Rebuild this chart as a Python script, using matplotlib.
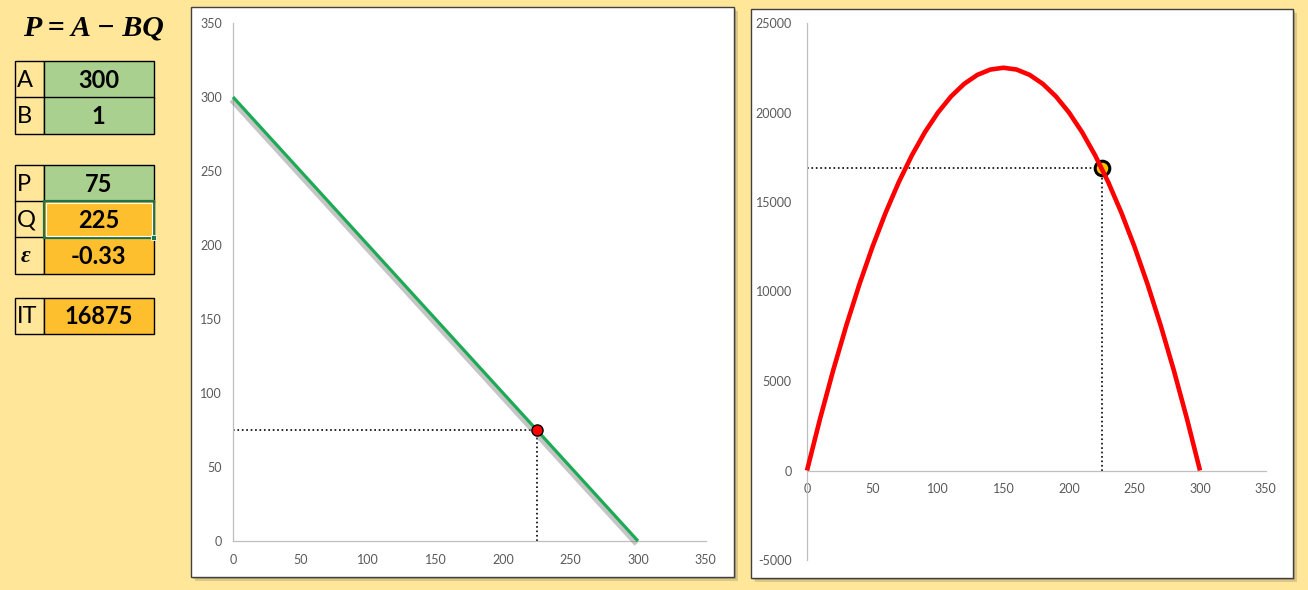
import matplotlib
matplotlib.use('Agg')
import matplotlib.pyplot as plt
from matplotlib.patches import Rectangle
import matplotlib.patheffects as pe

# ---------------- data ----------------
param_labels = ['A', 'B']
param_values = ['300', '1']
result_labels = ['P', 'Q', 'ε']
result_values = ['75', '225', '-0.33']
it_label = 'IT'
it_value = '16875'

demand_q = [0, 300]
demand_p = [300, 0]
point_q, point_p = 225, 75
point_it = 16875

rev_q = [0, 10, 20, 30, 40, 50, 60, 70, 80, 90, 100, 110, 120, 130, 140, 150,
         160, 170, 180, 190, 200, 210, 220, 230, 240, 250, 260, 270, 280, 290, 300]
rev_it = [0, 2900, 5600, 8100, 10400, 12500, 14400, 16100, 17600, 18900, 20000,
          20900, 21600, 22100, 22400, 22500, 22400, 22100, 21600, 20900, 20000,
          18900, 17600, 16100, 14400, 12500, 10400, 8100, 5600, 2900, 0]

x_ticks = [0, 50, 100, 150, 200, 250, 300, 350]
y_ticks_left = [0, 50, 100, 150, 200, 250, 300, 350]
y_ticks_right = [-5000, 0, 5000, 10000, 15000, 20000, 25000]

# ---------------- figure ----------------
W, H = 1308, 590
plt.rcParams['font.family'] = ['Lato', 'DejaVu Sans']
plt.rcParams['axes.unicode_minus'] = False
fig = plt.figure(figsize=(W / 100, H / 100), dpi=100)
fig.patch.set_facecolor('#FFE699')

GREEN = '#A9D08E'
ORANGE = '#FDBF2D'


def prect(x0, y0, x1, y1, **kw):
    r = Rectangle((x0 / W, 1 - y1 / H), (x1 - x0) / W, (y1 - y0) / H,
                  transform=fig.transFigure, **kw)
    fig.add_artist(r)
    return r


def ptext(x, y, s, **kw):
    return fig.text(x / W, 1 - y / H, s, **kw)


# chart frames with shadows
for (x0, y0, x1, y1) in [(191, 7, 734, 577), (751, 9, 1293, 578)]:
    prect(x0 + 4, y0 + 4, x1 + 4, y1 + 4, facecolor='#9a8f6a', alpha=0.35,
          edgecolor='none', zorder=-3)
    prect(x0 + 2, y0 + 2, x1 + 2, y1 + 2, facecolor='#7a7050', alpha=0.35,
          edgecolor='none', zorder=-2)
    prect(x0, y0, x1, y1, facecolor='white', edgecolor='#404040',
          linewidth=1.0, zorder=-1)

# title
ptext(93, 28, 'P = A − BQ', family='Liberation Serif', weight='bold',
      style='italic', size=21.5, ha='center', va='center', color='black')

# table
LX0, LX1, VX1 = 14.5, 43.5, 153.5


def row(y0, y1, label, value, fill, label_kw=None):
    prect(LX0, y0, LX1, y1, facecolor='#FFE699', edgecolor='black', linewidth=1.0)
    prect(LX1, y0, VX1, y1, facecolor=fill, edgecolor='black', linewidth=1.0)
    kw = dict(size=17, ha='left', va='center', color='black')
    if label_kw:
        kw.update(label_kw)
    ptext(kw.pop('x', 17), (y0 + y1) / 2 + 1, label, **kw)
    ptext((LX1 + VX1) / 2, (y0 + y1) / 2 + 1, value, size=17, weight='bold',
          ha='center', va='center', color='black')


row(61.5, 97.5, param_labels[0], param_values[0], GREEN)
row(97.5, 133.5, param_labels[1], param_values[1], GREEN)
row(165.5, 201.5, result_labels[0], result_values[0], GREEN)
row(201.5, 237.5, result_labels[1], result_values[1], ORANGE)
row(237.5, 273.5, result_labels[2], result_values[2], ORANGE,
    dict(family='Liberation Serif', weight='bold', style='italic', size=17,
         x=21))
row(297.5, 333.5, it_label, it_value, ORANGE)

# selection border on Q cell
prect(LX1, 201.5, VX1, 237.5, facecolor='none', edgecolor='#217346',
      linewidth=1.6, zorder=3)
prect(LX1 + 2, 203.5, VX1 - 2, 235.5, facecolor='none', edgecolor='white',
      linewidth=0.8, zorder=3)
prect(150.5, 234.5, 156, 240, facecolor='#217346', edgecolor='white',
      linewidth=0.6, zorder=4)

TICK_COLOR = '#595959'
SPINE_COLOR = '#BFBFBF'


def style_axes(ax):
    ax.set_facecolor('none')
    for s in ['top', 'right']:
        ax.spines[s].set_visible(False)
    for s in ['left', 'bottom']:
        ax.spines[s].set_color(SPINE_COLOR)
        ax.spines[s].set_linewidth(0.9)
    ax.tick_params(length=0, labelsize=9, labelcolor=TICK_COLOR)
    ax.tick_params(axis='y', pad=8)
    ax.tick_params(axis='x', pad=9)
    ax.set_xticks(x_ticks)
    ax.set_xlim(0, 350)


# ---------------- left chart: demand ----------------
axL = fig.add_axes([233 / W, (H - 541) / H, (705.5 - 233) / W, (541 - 23) / H])
style_axes(axL)
axL.set_ylim(0, 350)
axL.set_yticks(y_ticks_left)
axL.plot(demand_q, demand_p, color='#1DAA55', linewidth=2.3, solid_capstyle='butt',
         path_effects=[pe.SimpleLineShadow(offset=(-1.2, -2.2), shadow_color='#808080',
                                           alpha=0.45, linewidth=3.5),
                       pe.Normal()], zorder=3, clip_on=False)
axL.plot([0, point_q], [point_p, point_p], color='black', linestyle=':',
         linewidth=1.2, zorder=2)
axL.plot([point_q, point_q], [0, point_p], color='black', linestyle=':',
         linewidth=1.2, zorder=2)
axL.plot([point_q], [point_p], marker='o', markersize=8, markerfacecolor='#FF0000',
         markeredgecolor='black', markeredgewidth=1.0, zorder=5, clip_on=False)

# ---------------- right chart: revenue ----------------
axR = fig.add_axes([807 / W, (H - 560) / H, (1265.5 - 807) / W, (560 - 23) / H])
style_axes(axR)
axR.set_ylim(-5000, 25000)
axR.set_yticks(y_ticks_right)
axR.spines['bottom'].set_position(('data', 0))
axR.tick_params(axis='y', pad=11)
axR.plot([0, point_q], [point_it, point_it], color='black', linestyle=':',
         linewidth=1.2, zorder=2)
axR.plot([point_q, point_q], [0, point_it], color='black', linestyle=':',
         linewidth=1.2, zorder=2)
axR.plot([point_q], [point_it], marker='o', markersize=10.5, markerfacecolor='#FFC000',
         markeredgecolor='black', markeredgewidth=2.2, zorder=4, clip_on=False)
axR.plot(rev_q, rev_it, color='#FF0000', linewidth=3.3, zorder=5,
         solid_capstyle='butt', clip_on=False)

fig.savefig('out.png', dpi=100, facecolor=fig.get_facecolor())
